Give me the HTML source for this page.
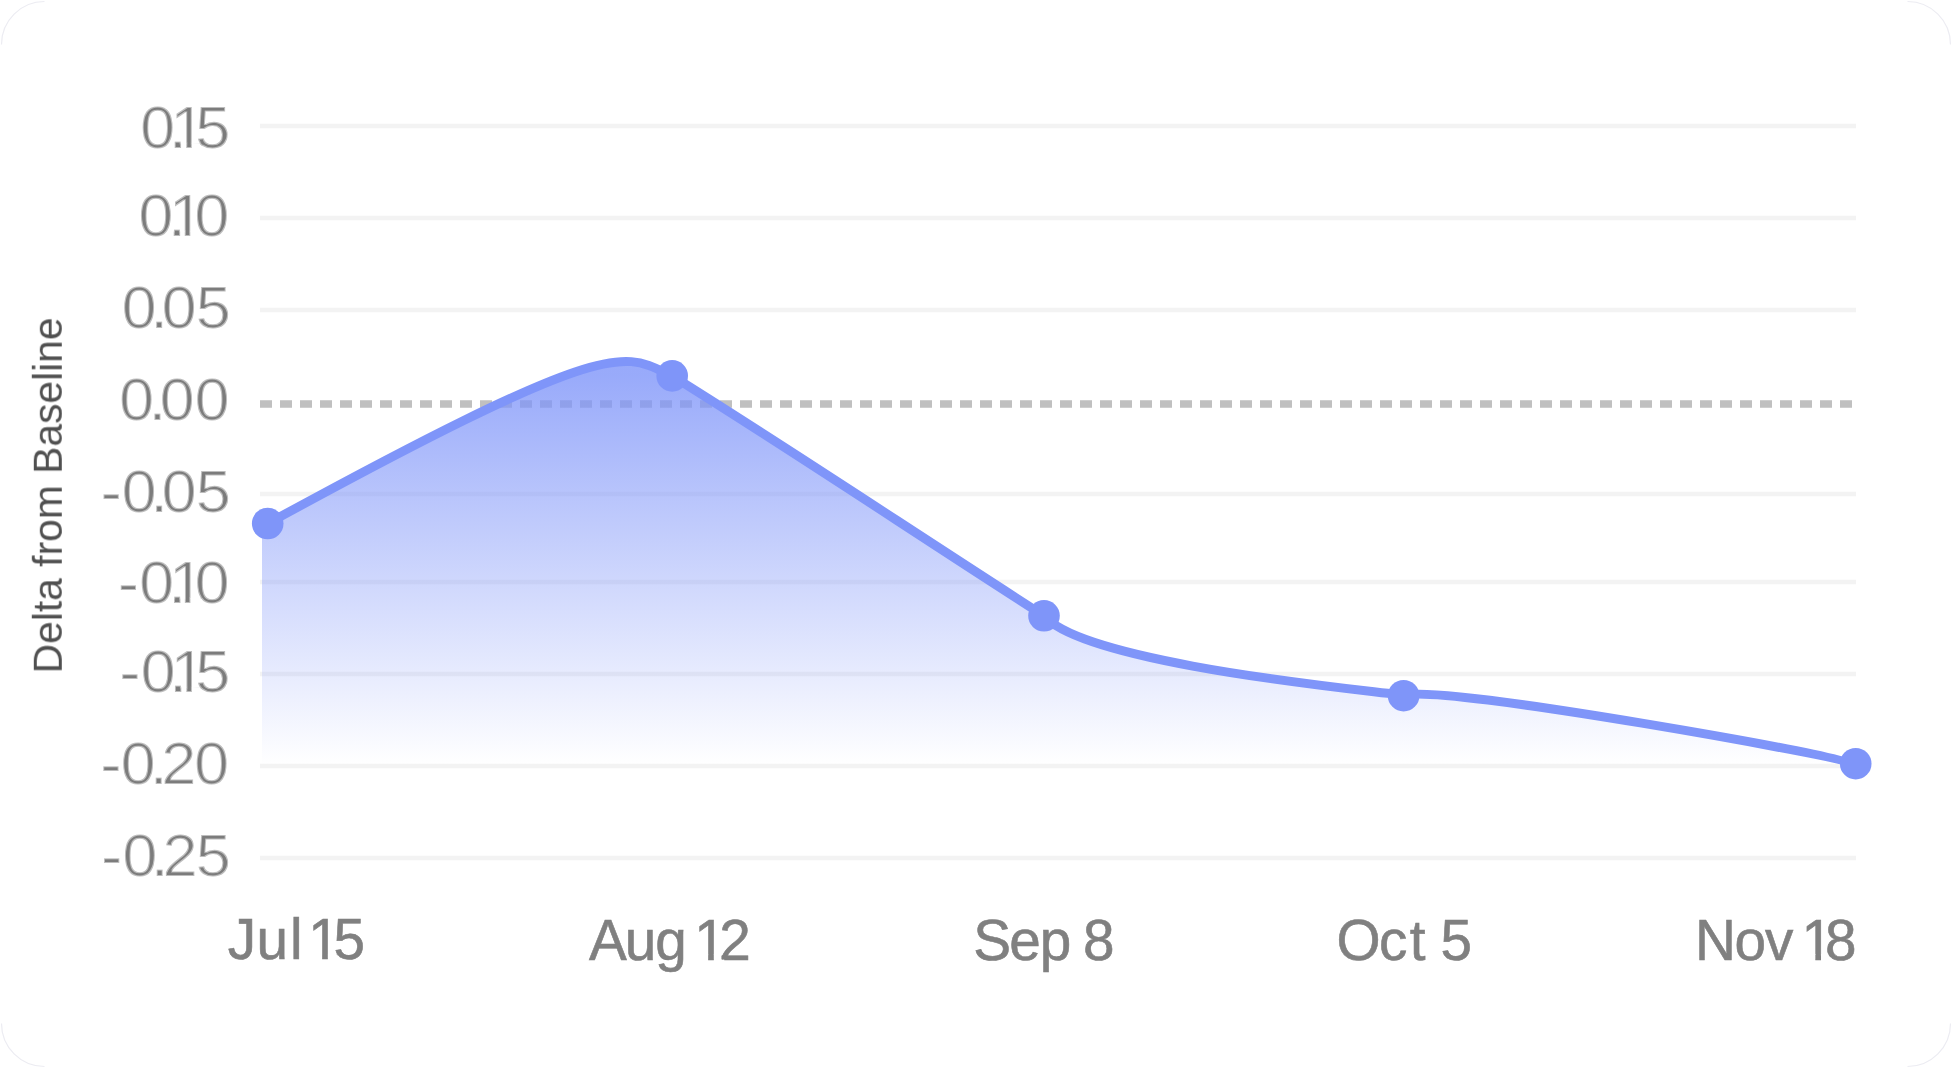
<!DOCTYPE html>
<html><head><meta charset="utf-8"><title>Delta from Baseline</title>
<style>
html,body{margin:0;padding:0;background:#fff;}
body{width:1952px;height:1068px;overflow:hidden;}
svg{display:block;}
.yl text{font-family:"Liberation Sans",Arial,sans-serif;font-size:59.5px;fill:#7c7c7c;}
.xl text{font-family:"Liberation Sans",Arial,sans-serif;font-size:56.7px;fill:#808080;stroke:#808080;stroke-width:0.6px;}
.tt{font-family:"Liberation Sans",Arial,sans-serif;font-size:40.8px;fill:#505050;}
</style></head>
<body>
<svg width="1952" height="1068" viewBox="0 0 1952 1068">
<defs>
<linearGradient id="fillg" gradientUnits="userSpaceOnUse" x1="0" y1="375" x2="0" y2="765">
<stop offset="0" stop-color="#7f95f9" stop-opacity="0.8"/>
<stop offset="1" stop-color="#7f95f9" stop-opacity="0"/>
</linearGradient>
<filter id="thin" x="-2%" y="-5%" width="104%" height="110%"><feMorphology in="SourceGraphic" operator="erode" radius="1" result="er"/><feComposite in="er" in2="SourceGraphic" operator="arithmetic" k1="0" k2="0.5" k3="0.5" k4="0"/></filter><clipPath id="lblclip" clipPathUnits="userSpaceOnUse"><path clip-rule="evenodd" d="M-10,-10H1962V1078H-10ZM181.05,143.00L186.24,143.00L186.24,149.70L181.05,149.70ZM191.80,143.00L199.34,143.14L199.52,143.44L199.74,143.74L199.96,144.04L200.21,144.33L200.46,144.63L200.77,144.93L201.05,145.23L201.40,145.52L201.77,145.82L202.15,146.12L202.59,146.42L203.09,146.71L203.23,147.01L203.23,147.31L203.23,147.61L203.23,147.90L203.23,148.20L203.23,148.50L203.23,148.80L203.23,149.09L203.23,149.39L203.23,149.69L203.23,149.70L191.80,149.70ZM180.15,231.00L184.74,231.00L184.74,237.60L180.15,237.60ZM190.30,231.00L200.35,231.04L200.57,231.34L200.75,231.64L201.00,231.94L201.22,232.23L201.50,232.53L201.73,232.83L201.73,233.12L201.73,233.42L201.73,233.72L201.73,234.02L201.73,234.31L201.73,234.61L201.73,234.91L201.73,235.21L201.73,235.50L201.73,235.80L201.73,236.10L201.73,236.40L201.73,236.69L201.73,236.99L201.73,237.29L201.73,237.59L201.73,237.60L190.30,237.60ZM180.40,598.00L184.84,598.00L184.84,604.90L180.40,604.90ZM190.40,598.00L200.31,598.04L200.50,598.34L200.72,598.64L200.90,598.94L201.15,599.24L201.37,599.53L201.65,599.83L201.83,600.13L201.83,600.42L201.83,600.72L201.83,601.02L201.83,601.32L201.83,601.62L201.83,601.91L201.83,602.21L201.83,602.51L201.83,602.80L201.83,603.10L201.83,603.40L201.83,603.70L201.83,604.00L201.83,604.29L201.83,604.59L201.83,604.89L201.83,604.90L190.40,604.90ZM181.35,687.00L186.34,687.00L186.34,693.20L181.35,693.20ZM191.90,687.00L199.74,687.24L199.96,687.53L200.21,687.83L200.46,688.13L200.77,688.43L201.05,688.72L201.40,689.02L201.77,689.32L202.15,689.62L202.59,689.91L203.09,690.21L203.33,690.51L203.33,690.81L203.33,691.10L203.33,691.40L203.33,691.70L203.33,692.00L203.33,692.29L203.33,692.59L203.33,692.89L203.33,693.19L203.33,693.20L191.90,693.20ZM311.23,954.00L322.15,954.00L322.15,960.60L311.23,960.60ZM327.80,954.00L336.39,954.00L336.56,954.28L336.73,954.56L336.93,954.85L337.12,955.13L337.35,955.41L337.58,955.70L337.86,955.98L338.12,956.26L338.27,956.55L338.27,956.83L338.27,957.12L338.27,957.40L338.27,957.68L338.27,957.97L338.27,958.25L338.27,958.53L338.27,958.82L338.27,959.10L338.27,959.38L338.27,959.67L338.27,959.95L338.27,960.23L338.27,960.52L338.27,960.60L327.80,960.60ZM697.23,954.00L708.15,954.00L708.15,961.00L697.23,961.00ZM713.80,954.00L722.38,954.11L722.24,954.40L722.07,954.68L721.95,954.96L721.81,955.25L721.67,955.53L721.56,955.81L721.47,956.10L721.47,956.38L721.47,956.66L721.47,956.95L721.47,957.23L721.47,957.52L721.47,957.80L721.47,958.08L721.47,958.37L721.47,958.65L721.47,958.93L721.47,959.22L724.27,959.50L724.27,959.78L724.27,960.07L724.27,960.35L724.27,960.63L724.27,960.92L724.27,961.00L713.80,961.00ZM1804.43,954.00L1815.35,954.00L1815.35,961.00L1804.43,961.00ZM1821.00,954.00L1828.12,954.11L1828.26,954.40L1828.43,954.68L1828.60,954.96L1828.77,955.25L1829.00,955.53L1829.22,955.81L1829.45,956.10L1829.70,956.38L1829.99,956.66L1830.30,956.95L1830.64,957.23L1831.01,957.52L1831.40,957.80L1831.47,958.08L1831.47,958.37L1831.47,958.65L1831.47,958.93L1831.47,959.22L1831.47,959.50L1831.47,959.78L1831.47,960.07L1831.47,960.35L1831.47,960.63L1831.47,960.92L1831.47,961.00L1821.00,961.00Z"/></clipPath>
</defs>
<rect width="1952" height="1068" fill="#fff"/><path d="M1.5,44.5 A43,43 0 0 1 44.5,1.5 M1907.5,1.5 A43,43 0 0 1 1950.5,44.5 M1950.5,1023.5 A43,43 0 0 1 1907.5,1066.5 M44.5,1066.5 A43,43 0 0 1 1.5,1023.5" fill="none" stroke="#ececf2" stroke-width="1.2"/>
<g fill="#f3f3f3"><rect x="260" y="123.75" width="1596" height="4.5"/><rect x="260" y="215.75" width="1596" height="4.5"/><rect x="260" y="307.75" width="1596" height="4.5"/><rect x="260" y="491.75" width="1596" height="4.5"/><rect x="260" y="579.75" width="1596" height="4.5"/><rect x="260" y="671.75" width="1596" height="4.5"/><rect x="260" y="763.75" width="1596" height="4.5"/><rect x="260" y="855.75" width="1596" height="4.5"/></g>
<line x1="260" y1="404" x2="1856" y2="404" stroke="#c0c0c0" stroke-width="7.4" stroke-dasharray="12 8"/>
<path d="M262,526.3L267.7,523.5C619.8,331.2,623.1,353.4,672.2,375.9C796.2,453.2,920.0,536.4,1044.0,615.8C1088.4,667.5,1403.7,693.2,1403.6,695.7C1436.2,682.5,1855.8,759.4,1855.7,763.7L1855.7,766L262,766Z" fill="url(#fillg)"/>
<path d="M267.7,523.5C619.8,331.2,623.1,353.4,672.2,375.9C796.2,453.2,920.0,536.4,1044.0,615.8C1088.4,667.5,1403.7,693.2,1403.6,695.7C1436.2,682.5,1855.8,759.4,1855.7,763.7" fill="none" stroke="#7f95f9" stroke-width="9" stroke-linecap="round" stroke-linejoin="round"/>
<g fill="#7f95f9"><circle cx="267.7" cy="523.5" r="15.8"/><circle cx="672.2" cy="375.9" r="15.8"/><circle cx="1044" cy="615.8" r="15.8"/><circle cx="1403.6" cy="695.7" r="15.8"/><circle cx="1855.7" cy="763.7" r="15.8"/></g>
<g filter="url(#thin)"><g class="yl" clip-path="url(#lblclip)">
<text  x="133.65 161.02 162.44 186.19" y="0" transform="translate(0,148.20) scale(1.0500,1)">0.15</text>
<text  x="131.89 160.16 161.01 185.36" y="0" transform="translate(0,236.10) scale(1.0500,1)">0.10</text>
<text  x="115.98 143.30 154.08 186.61" y="0" transform="translate(0,327.90) scale(1.0500,1)">0.05</text>
<text  x="113.65 141.63 152.08 185.51" y="0" transform="translate(0,419.80) scale(1.0500,1)">0.00</text>
<text  x="95.86 115.98 143.30 154.08 186.61" y="0" transform="translate(0,512.10) scale(1.0500,1)">-0.05</text>
<text  x="112.28 132.74 160.40 161.10 185.51" y="0" transform="translate(0,603.40) scale(1.0500,1)">-0.10</text>
<text  x="113.76 133.94 161.30 162.53 186.19" y="0" transform="translate(0,691.70) scale(1.0500,1)">-0.15</text>
<text  x="95.76 115.03 142.97 153.74 184.94" y="0" transform="translate(0,784.00) scale(1.0500,1)">-0.20</text>
<text  x="96.43 116.60 143.87 154.98 186.57" y="0" transform="translate(0,875.70) scale(1.0500,1)">-0.25</text>
</g></g>
<g class="xl" clip-path="url(#lblclip)">
<text  x="227.77 256.57 289.96 302.55 308.22 333.39" y="0" transform="translate(0,959.10) scale(1.0000,1)">Jul 15</text>
<text  x="588.99 624.67 655.26 686.80 694.22 719.19" y="0" transform="translate(0,959.50) scale(1.0000,1)">Aug 12</text>
<text  x="973.34 1009.34 1039.76 1071.30 1083.04" y="0" transform="translate(0,959.50) scale(1.0000,1)">Sep 8</text>
<text  x="1336.62 1379.12 1409.79 1425.54 1440.54" y="0" transform="translate(0,959.50) scale(1.0000,1)">Oct 5</text>
<text  x="1695.10 1734.44 1765.08 1793.42 1801.42 1825.04" y="0" transform="translate(0,959.50) scale(1.0000,1)">Nov 18</text>
</g>
<g transform="translate(61.8,673.4) rotate(-90)" style="will-change:transform"><text class="tt" x="0" y="0">Delta from Baseline</text></g>
</svg>
</body></html>
